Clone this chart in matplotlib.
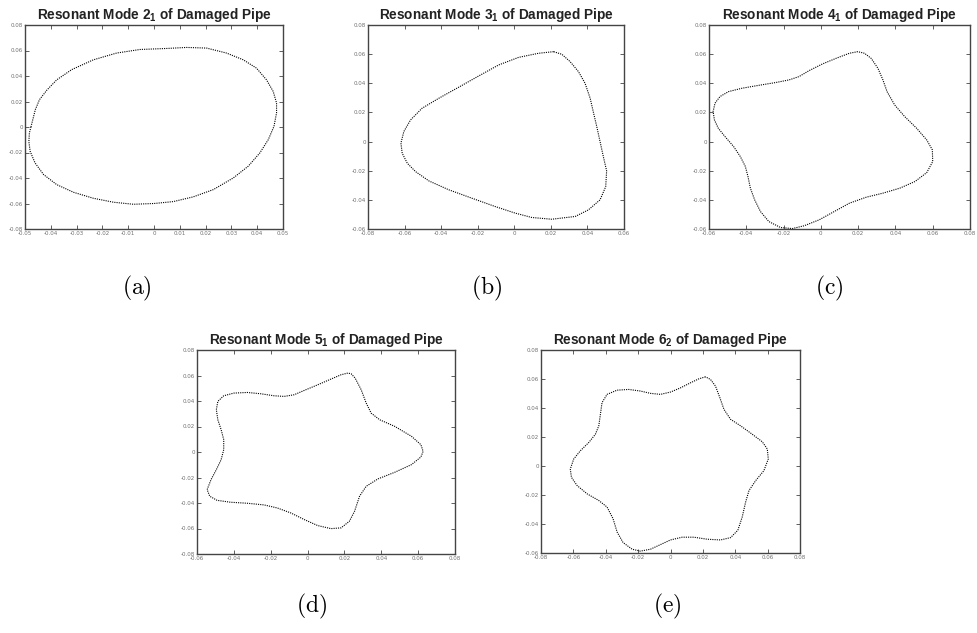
import matplotlib
matplotlib.use("Agg")
import matplotlib.pyplot as plt

plt.rcParams['mathtext.fontset'] = 'custom'
plt.rcParams['mathtext.rm'] = 'Liberation Sans:bold'
plt.rcParams['mathtext.it'] = 'Liberation Sans:bold'
plt.rcParams['mathtext.bf'] = 'Liberation Sans:bold'

# ---- data (closed mode-shape curves) ----
mode2_x = [-0.0477, -0.0460, -0.0444, -0.0415, -0.0377, -0.0319, -0.0235, -0.0145, -0.0054, 0.0049,
           0.0126, 0.0204, 0.0281, 0.0346, 0.0397, 0.0436, 0.0462, 0.0475, 0.0475, 0.0465,
           0.0443, 0.0410, 0.0365, 0.0307, 0.0230, 0.0152, 0.0075, 0.0000, -0.0080, -0.0157,
           -0.0235, -0.0312, -0.0377, -0.0428, -0.0461, -0.0480, -0.0485, -0.0483, -0.0477]
mode2_y = [0.0000, 0.0136, 0.0214, 0.0290, 0.0370, 0.0450, 0.0527, 0.0580, 0.0608, 0.0616,
           0.0624, 0.0619, 0.0580, 0.0527, 0.0462, 0.0370, 0.0279, 0.0188, 0.0110, 0.0005,
           -0.0099, -0.0204, -0.0308, -0.0400, -0.0491, -0.0548, -0.0585, -0.0600, -0.0606, -0.0590,
           -0.0559, -0.0512, -0.0452, -0.0373, -0.0282, -0.0191, -0.0115, -0.0047, 0.0000]

mode3_x = [0.0215, 0.0133, 0.0024, -0.0085, -0.0195, -0.0304, -0.0413, -0.0504, -0.0567, -0.0604,
           -0.0620, -0.0613, -0.0585, -0.0540, -0.0467, -0.0358, -0.0231, -0.0104, 0.0005, 0.0096,
           0.0205, 0.0333, 0.0405, 0.0469, 0.0500, 0.0505, 0.0487, 0.0469, 0.0451, 0.0433,
           0.0415, 0.0387, 0.0351, 0.0305, 0.0260, 0.0215]
mode3_y = [0.0617, 0.0606, 0.0578, 0.0526, 0.0450, 0.0373, 0.0297, 0.0229, 0.0149, 0.0069,
           -0.0011, -0.0080, -0.0149, -0.0206, -0.0270, -0.0331, -0.0389, -0.0446, -0.0491, -0.0521,
           -0.0533, -0.0514, -0.0469, -0.0400, -0.0309, -0.0201, -0.0103, 0.0000, 0.0103, 0.0199,
           0.0297, 0.0400, 0.0480, 0.0549, 0.0599, 0.0617]

mode4_x = [0.0198, 0.0153, 0.0081, 0.0009, -0.0063, -0.0117, -0.0171, -0.0243, -0.0333, -0.0423,
           -0.0495, -0.0541, -0.0568, -0.0578, -0.0571, -0.0550, -0.0514, -0.0468, -0.0432, -0.0405,
           -0.0391, -0.0378, -0.0355, -0.0324, -0.0279, -0.0216, -0.0153, -0.0090, -0.0009, 0.0072,
           0.0153, 0.0243, 0.0333, 0.0423, 0.0505, 0.0568, 0.0600, 0.0598, 0.0568, 0.0514,
           0.0450, 0.0396, 0.0355, 0.0333, 0.0306, 0.0270, 0.0234, 0.0198]
mode4_y = [0.0617, 0.0606, 0.0571, 0.0533, 0.0487, 0.0446, 0.0423, 0.0405, 0.0386, 0.0366,
           0.0343, 0.0309, 0.0263, 0.0206, 0.0149, 0.0091, 0.0034, -0.0034, -0.0103, -0.0171,
           -0.0240, -0.0320, -0.0400, -0.0480, -0.0549, -0.0590, -0.0597, -0.0578, -0.0537, -0.0480,
           -0.0423, -0.0382, -0.0354, -0.0320, -0.0274, -0.0213, -0.0137, -0.0057, 0.0011, 0.0091,
           0.0171, 0.0251, 0.0343, 0.0423, 0.0503, 0.0571, 0.0606, 0.0617]

mode5_x = [0.0218, 0.0182, 0.0127, 0.0055, -0.0018, -0.0073, -0.0127, -0.0182, -0.0255, -0.0327,
           -0.0400, -0.0455, -0.0487, -0.0495, -0.0487, -0.0469, -0.0455, -0.0455, -0.0469, -0.0495,
           -0.0524, -0.0545, -0.0531, -0.0491, -0.0418, -0.0327, -0.0236, -0.0164, -0.0091, -0.0018,
           0.0055, 0.0127, 0.0182, 0.0227, 0.0255, 0.0282, 0.0318, 0.0382, 0.0473, 0.0564,
           0.0615, 0.0627, 0.0615, 0.0564, 0.0473, 0.0391, 0.0345, 0.0318, 0.0291, 0.0258,
           0.0236, 0.0218]
mode5_y = [0.0619, 0.0606, 0.0572, 0.0527, 0.0483, 0.0449, 0.0436, 0.0441, 0.0457, 0.0467,
           0.0462, 0.0441, 0.0397, 0.0332, 0.0253, 0.0175, 0.0097, 0.0018, -0.0060, -0.0138,
           -0.0217, -0.0295, -0.0347, -0.0379, -0.0394, -0.0402, -0.0415, -0.0439, -0.0478, -0.0530,
           -0.0577, -0.0601, -0.0595, -0.0543, -0.0465, -0.0347, -0.0269, -0.0211, -0.0159, -0.0099,
           -0.0039, 0.0005, 0.0057, 0.0123, 0.0201, 0.0253, 0.0305, 0.0384, 0.0488, 0.0580,
           0.0614, 0.0619]

mode6_x = [0.0216, 0.0175, 0.0124, 0.0062, 0.0000, -0.0062, -0.0124, -0.0186, -0.0258, -0.0330,
           -0.0392, -0.0423, -0.0433, -0.0443, -0.0464, -0.0505, -0.0557, -0.0598, -0.0619, -0.0612,
           -0.0577, -0.0515, -0.0443, -0.0392, -0.0355, -0.0330, -0.0293, -0.0237, -0.0186, -0.0124,
           -0.0062, 0.0000, 0.0072, 0.0144, 0.0227, 0.0309, 0.0371, 0.0416, 0.0443, 0.0464,
           0.0485, 0.0526, 0.0577, 0.0604, 0.0598, 0.0567, 0.0505, 0.0433, 0.0371, 0.0330,
           0.0305, 0.0278, 0.0247, 0.0216]
mode6_y = [0.0615, 0.0601, 0.0574, 0.0539, 0.0510, 0.0494, 0.0501, 0.0517, 0.0528, 0.0523,
           0.0494, 0.0437, 0.0357, 0.0277, 0.0219, 0.0162, 0.0105, 0.0048, -0.0021, -0.0078,
           -0.0135, -0.0192, -0.0238, -0.0283, -0.0363, -0.0455, -0.0528, -0.0574, -0.0587, -0.0574,
           -0.0542, -0.0510, -0.0491, -0.0491, -0.0505, -0.0510, -0.0494, -0.0443, -0.0352, -0.0249,
           -0.0169, -0.0101, -0.0032, 0.0048, 0.0117, 0.0167, 0.0219, 0.0277, 0.0322, 0.0391,
           0.0471, 0.0551, 0.0597, 0.0615]

titles = ['Resonant Mode 2$_1$ of Damaged Pipe', 'Resonant Mode 3$_1$ of Damaged Pipe',
          'Resonant Mode 4$_1$ of Damaged Pipe', 'Resonant Mode 5$_1$ of Damaged Pipe',
          'Resonant Mode 6$_2$ of Damaged Pipe']
panel_labels = ['(a)', '(b)', '(c)', '(d)', '(e)']

xticks_a = [-0.05, -0.04, -0.03, -0.02, -0.01, 0, 0.01, 0.02, 0.03, 0.04, 0.05]
xlabels_a = ['-0.05', '-0.04', '-0.03', '-0.02', '-0.01', '0', '0.01', '0.02', '0.03', '0.04', '0.05']
ticks_full = [-0.08, -0.06, -0.04, -0.02, 0, 0.02, 0.04, 0.06, 0.08]
labels_full = ['-0.08', '-0.06', '-0.04', '-0.02', '0', '0.02', '0.04', '0.06', '0.08']
ticks_b = [-0.08, -0.06, -0.04, -0.02, 0, 0.02, 0.04, 0.06]
labels_b = ['-0.08', '-0.06', '-0.04', '-0.02', '0', '0.02', '0.04', '0.06']
ticks_c = [-0.06, -0.04, -0.02, 0, 0.02, 0.04, 0.06, 0.08]
labels_c = ['-0.06', '-0.04', '-0.02', '0', '0.02', '0.04', '0.06', '0.08']

panels = [
    dict(x=mode2_x, y=mode2_y, rect=[25, 25, 283, 229], xlim=(-0.05, 0.05), ylim=(-0.08, 0.08),
         xt=xticks_a, xl=xlabels_a, yt=ticks_full, yl=labels_full, lab=(137, 288)),
    dict(x=mode3_x, y=mode3_y, rect=[368, 25, 624, 229], xlim=(-0.08, 0.06), ylim=(-0.06, 0.08),
         xt=ticks_b, xl=labels_b, yt=ticks_c, yl=labels_c, lab=(487, 288)),
    dict(x=mode4_x, y=mode4_y, rect=[709, 25, 970, 229], xlim=(-0.06, 0.08), ylim=(-0.06, 0.08),
         xt=ticks_c, xl=labels_c, yt=ticks_c, yl=labels_c, lab=(829, 288)),
    dict(x=mode5_x, y=mode5_y, rect=[197, 350, 455, 554], xlim=(-0.06, 0.08), ylim=(-0.08, 0.08),
         xt=ticks_c, xl=labels_c, yt=ticks_full, yl=labels_full, lab=(312, 606)),
    dict(x=mode6_x, y=mode6_y, rect=[541, 350, 800, 553], xlim=(-0.08, 0.08), ylim=(-0.06, 0.08),
         xt=ticks_full, xl=labels_full, yt=ticks_c, yl=labels_c, lab=(667, 606)),
]

W, H = 977, 633
fig = plt.figure(figsize=(W / 100, H / 100), dpi=100)

for p, title, lab in zip(panels, titles, panel_labels):
    l, t, r, b = p['rect']
    ax = fig.add_axes([l / W, 1 - b / H, (r - l) / W, (b - t) / H])
    ax.plot(p['x'], p['y'], color='black', linestyle=(0, (1, 1)), linewidth=0.8)
    ax.set_xlim(*p['xlim'])
    ax.set_ylim(*p['ylim'])
    ax.set_xticks(p['xt'])
    ax.set_xticklabels(p['xl'])
    ax.set_yticks(p['yt'])
    ax.set_yticklabels(p['yl'])
    ax.tick_params(direction='in', length=3, width=0.6, top=True, right=True,
                   labelsize=4, labelcolor='#707070', color='#444444', pad=1.5)
    for s in ax.spines.values():
        s.set_color('#444444')
        s.set_linewidth(1.0)
    ax.set_title(title, fontsize=9.8, fontweight='bold', family='Liberation Sans', pad=4,
                 color='#222222')
    fig.text(p['lab'][0] / W, 1 - p['lab'][1] / H, r'$\mathrm{' + lab + '}$',
             fontsize=17, ha='center', va='center', math_fontfamily='cm')

fig.savefig('out.png', dpi=100, facecolor='white')
